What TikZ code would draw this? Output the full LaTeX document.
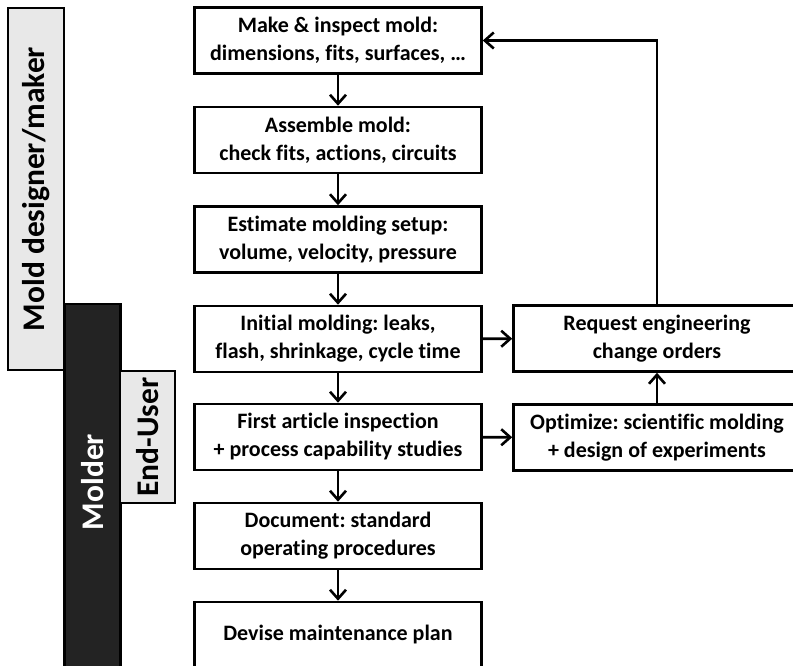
\documentclass[tikz,border=0pt]{standalone}
\usepackage{fontspec}
\setmainfont{Carlito}[Ligatures=NoCommon]
\usepackage{tikz}
\usetikzlibrary{positioning,arrows.meta}
\definecolor{lightbar}{RGB}{232,232,232}
\definecolor{darkbar}{RGB}{35,35,35}
\frenchspacing

\begin{document}
\begin{tikzpicture}[x=1pt, y=-1pt, line width=2.6pt,
    >={Straight Barb[length=9pt,width=16pt]},
    stepbox/.style={draw, minimum width=287pt, minimum height=66pt, align=center,
      font=\fontsize{22}{28}\selectfont\bfseries, inner sep=2pt},
    rolebar/.style={draw, rotate=90, minimum height=56pt, inner sep=0pt,
      font=\fontsize{31.5}{34}\selectfont\bfseries}]
  \useasboundingbox (0,0) rectangle (793,666);
  \clip (0,0) rectangle (793,666);
  % who does what
  \node (designer) at (36,189) [rolebar, fill=lightbar, minimum width=362pt] {Mold designer/maker};
  \node (molder) at (92.5,492) [rolebar, fill=darkbar, text=white, minimum width=376pt] {\hspace*{20pt}Molder};
  \node (enduser) at (147.5,437) [rolebar, fill=lightbar, minimum width=132pt, minimum height=55pt] {End-User};
  % main steps
  \node (make) at (338,40.5) [stepbox] {Make \& inspect mold:\\ dimensions, fits, surfaces, \dots};
  \node (assemble) at (338,140) [stepbox] {Assemble mold:\\ check fits, actions, circuits};
  \node (estimate) at (338,239.5) [stepbox] {Estimate molding setup:\\ volume, velocity, pressure};
  \node (initial) at (338,339) [stepbox] {Initial molding: leaks,\\ flash, shrinkage, cycle time};
  \node (inspect) at (338,437) [stepbox] {First article inspection\\ + process capability studies};
  \node (document) at (338,536) [stepbox] {Document: standard\\ operating procedures};
  \node (maintain) at (338,635) [stepbox] {Devise maintenance plan};
  % side loop
  \node (request) at (657,338.5) [stepbox] {Request engineering\\ change orders};
  \node (optimize) at (657,437.5) [stepbox] {Optimize: scientific molding\\ + design of experiments};
  \draw[->] (make) to (assemble);
  \draw[->] (assemble) to (estimate);
  \draw[->] (estimate) to (initial);
  \draw[->] (initial) to (inspect);
  \draw[->] (inspect) to (document);
  \draw[->] (document) to (maintain);
  \draw[->] (initial) to (request);
  \draw[->] (inspect) to (optimize);
  \draw[->] (optimize) to (request);
  \draw[->] (request.north) |- (make.east);
\end{tikzpicture}
\end{document}
